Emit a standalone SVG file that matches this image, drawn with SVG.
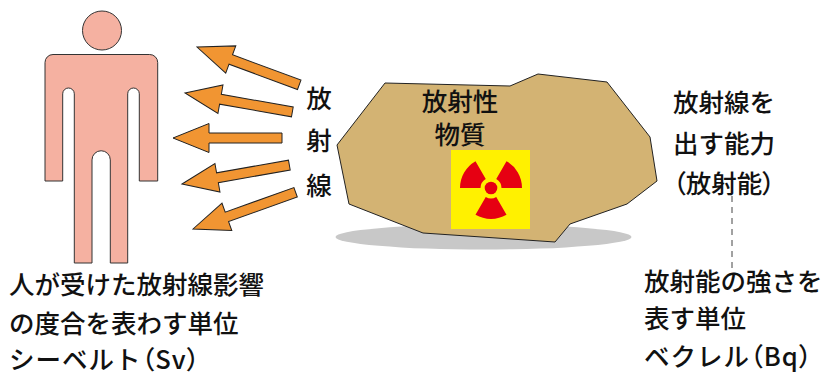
<svg xmlns="http://www.w3.org/2000/svg" width="823" height="379" viewBox="0 0 823 379">
  <defs>
    <style>
      .txt { font-family: "Noto Sans CJK JP", "Noto Sans", sans-serif; font-size: 25.5px; font-weight: 500; fill: #111; }
      .mid { text-anchor: middle; }
      .p { font-feature-settings: "palt" 1; }
      .wide { letter-spacing: 1px; }
      .ray { fill: #F19532; stroke: #222; stroke-width: 1; stroke-linejoin: miter; }
      .blade { fill: #E60012; }
    </style>
    <!-- arrow pointing left, tip at origin -->
    <path id="ray" d="M0,0 L36,-14.5 L36,-5 L109,-5 L109,5 L36,5 L36,14.5 Z"/>
  </defs>

  <rect width="823" height="379" fill="#fff"/>

  <!-- human figure -->
  <g id="person">
    <circle cx="102" cy="30.5" r="19.5" fill="#F5B1A1" stroke="#333" stroke-width="1"/>
    <path d="M45,181 V62.5 A8,8 0 0 1 53,54.5 H149.7 A8,8 0 0 1 157.7,62.5 V181 H139.3 V93.8 A5.8,5.8 0 0 0 127.7,93.8 V263 H110.3 V159.9 A9.15,9.15 0 0 0 92,159.9 V263 H74.3 V93.8 A5.8,5.8 0 0 0 62.7,93.8 V181 Z" fill="#F5B1A1" stroke="#333" stroke-width="1"/>
  </g>

  <!-- radiation arrows -->
  <g id="connectors">
    <use href="#ray" class="ray" transform="translate(197,47) rotate(20.3)"/>
    <use href="#ray" class="ray" transform="translate(185,93) rotate(10)"/>
    <use href="#ray" class="ray" transform="translate(173,138)"/>
    <use href="#ray" class="ray" transform="translate(182,184) rotate(-10)"/>
    <use href="#ray" class="ray" transform="translate(193,229) rotate(-19.7)"/>
    <line x1="732" y1="196" x2="732" y2="270" stroke="#444" stroke-width="1" stroke-dasharray="6,5"/>
  </g>

  <g id="ray-label">
    <text class="txt mid" x="319" y="108">放</text>
    <text class="txt mid" x="319" y="150">射</text>
    <text class="txt mid" x="319" y="195">線</text>
  </g>

  <!-- radioactive rock -->
  <g id="rock">
    <ellipse cx="483.5" cy="237" rx="148" ry="12.5" fill="#C8C8C8"/>
    <polygon points="385,83 510,86 538,74 607,82 650,137 657,181 627,204 570,224 555,242 423,233 349,204 337,145" fill="#D3B373" stroke="#222" stroke-width="1"/>
    <text class="txt mid" x="460" y="111">放射性</text>
    <text class="txt mid" x="460" y="144">物質</text>
  </g>

  <!-- trefoil sign -->
  <g id="trefoil">
    <rect x="451" y="150" width="79" height="79" fill="#FFF100"/>
    <g transform="translate(491,188)">
      <circle r="6.3" class="blade"/>
      <path id="blade" class="blade" d="M10.5,0 L31,0 A31,31 0 0 1 15.5,26.85 L5.25,9.09 A10.5,10.5 0 0 0 10.5,0 Z" transform="rotate(60)"/>
      <use href="#blade" transform="rotate(120)"/>
      <use href="#blade" transform="rotate(240)"/>
    </g>
  </g>

  <g id="activity-label">
    <text class="txt" x="673" y="112">放射線を</text>
    <text class="txt" x="673" y="153">出す能力</text>
    <text class="txt" x="673" y="193"><tspan class="p">（</tspan>放射能<tspan class="p">）</tspan></text>
  </g>

  <g id="becquerel">
    <text class="txt" x="644" y="291">放射能の強さを</text>
    <text class="txt" x="644" y="328">表す単位</text>
    <text class="txt wide" x="644" y="366">ベクレル<tspan class="p">（Bq）</tspan></text>
  </g>

  <g id="sievert">
    <text class="txt" x="9" y="294">人が受けた放射線影響</text>
    <text class="txt" x="9" y="333">の度合を表わす単位</text>
    <text class="txt wide" x="9" y="369">シーベルト<tspan class="p">（Sv）</tspan></text>
  </g>
</svg>
